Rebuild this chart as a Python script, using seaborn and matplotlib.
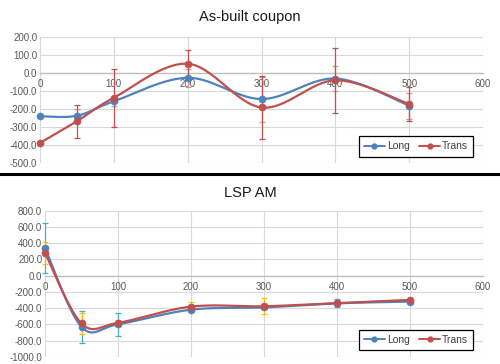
import numpy as np
import pandas as pd
import matplotlib
matplotlib.use("Agg")
import matplotlib.pyplot as plt
from matplotlib.lines import Line2D
import seaborn as sns

# data
dist = [0, 50, 100, 200, 300, 400, 500]

asb_long = [-240, -237, -157, -26, -144, -30, -181]
asb_trans = [-388, -268, -137, 52, -191, -40, -172]
asb_long_err = [0, 40, 25, 50, 125, 70, 72]
asb_trans_err = [0, 90, 160, 74, 175, 180, 95]

lsp_long = [340, -632, -600, -420, -392, -342, -320]
lsp_trans = [280, -590, -582, -382, -378, -338, -300]
lsp_long_err = [310, 200, 140, 20, 20, 50, 15]
lsp_trans_err = [135, 130, 40, 55, 100, 20, 15]

BLUE = "#4F81BD"
RED = "#C0504D"
TICK = "#595959"
GRID = "#D9D9D9"


def smooth(x, y, n=30):
    # excel-style smoothed line (catmull-rom / bezier)
    p = np.column_stack([x, y]).astype(float)
    p = np.vstack([p[0], p, p[-1]])
    out = []
    for i in range(1, len(p) - 2):
        p0, p1, p2, p3 = p[i - 1], p[i], p[i + 1], p[i + 2]
        b1 = p1 + (p2 - p0) / 6
        b2 = p2 - (p3 - p1) / 6
        t = np.linspace(0, 1, n)[:, None]
        seg = (1 - t) ** 3 * p1 + 3 * (1 - t) ** 2 * t * b1 + 3 * (1 - t) * t ** 2 * b2 + t ** 3 * p2
        out.append(seg if i == 1 else seg[1:])
    s = np.vstack(out)
    return pd.DataFrame({"x": s[:, 0], "y": s[:, 1]})


def panel(ax, long_v, trans_v, long_e, trans_e, ylo, yhi, ystep, ecol_long, ecol_trans):
    for v, e, c in [(long_v, long_e, ecol_long), (trans_v, trans_e, ecol_trans)]:
        eb = ax.errorbar(dist, v, yerr=e, fmt="none", ecolor=c, elinewidth=0.9,
                         capsize=2.5, capthick=0.9, zorder=3)
        for art in eb.lines[1] + eb.lines[2]:
            art.set_clip_on(False)
    sns.lineplot(data=smooth(dist, long_v), x="x", y="y", sort=False, color=BLUE, lw=1.6,
                 ax=ax, zorder=4, clip_on=False)
    sns.lineplot(data=smooth(dist, trans_v), x="x", y="y", sort=False, color=RED, lw=1.6,
                 ax=ax, zorder=5, clip_on=False)
    sns.scatterplot(x=dist, y=long_v, color=BLUE, s=26, edgecolor=BLUE, ax=ax, zorder=6,
                    clip_on=False)
    sns.scatterplot(x=dist, y=trans_v, color=RED, s=26, edgecolor=RED, ax=ax, zorder=7,
                    clip_on=False)

    ax.set_xlim(0, 600)
    ax.set_ylim(ylo, yhi)
    ax.set_xticks(range(0, 601, 100))
    ax.set_yticks(np.arange(ylo, yhi + 1, ystep))
    ax.set_yticklabels([f"{v:.1f}" for v in np.arange(ylo, yhi + 1, ystep)])
    ax.grid(True, color=GRID, lw=0.8)
    ax.set_axisbelow(True)
    for s in ["top", "right", "left"]:
        ax.spines[s].set_visible(False)
    ax.spines["bottom"].set_position(("data", 0))
    ax.spines["bottom"].set_color("#BFBFBF")
    ax.spines["bottom"].set_linewidth(1.0)
    ax.tick_params(axis="both", length=0, labelsize=7, labelcolor=TICK)
    ax.tick_params(axis="x", pad=4.5)
    ax.tick_params(axis="y", pad=2)
    ax.set_xlabel("")
    ax.set_ylabel("")

    handles = [Line2D([], [], color=BLUE, marker="o", ms=3.5, lw=1.4),
               Line2D([], [], color=RED, marker="o", ms=3.5, lw=1.4)]
    leg = ax.legend(handles, ["Long", "Trans"], loc="lower right", ncol=2, fontsize=7.5,
                    frameon=True, fancybox=False, framealpha=1, edgecolor="black",
                    handlelength=2.0, handletextpad=0.2, columnspacing=0.9,
                    borderpad=0.5, bbox_to_anchor=(0.99, 0.01))
    leg.get_frame().set_linewidth(0.9)
    for t in leg.get_texts():
        t.set_color("#404040")


sns.set_style("white")
plt.rcParams["font.family"] = ["Liberation Sans", "DejaVu Sans"]

fig = plt.figure(figsize=(5.0, 3.64), dpi=100)
ax1 = fig.add_axes([0.08, 0.552, 0.886, 0.346])
ax2 = fig.add_axes([0.09, 0.02, 0.876, 0.401])

panel(ax1, asb_long, asb_trans, asb_long_err, asb_trans_err, -500, 200, 100, "#D99694", RED)
panel(ax2, lsp_long, lsp_trans, lsp_long_err, lsp_trans_err, -1000, 800, 200, "#4BACC6", "#FFC000")

fig.text(0.5, 1 - 17 / 364, "As-built coupon", ha="center", va="center", fontsize=10.5, color="#1a1a1a")
fig.text(0.5, 1 - 193 / 364, "LSP AM", ha="center", va="center", fontsize=10.5, color="#1a1a1a")

fig.add_artist(Line2D([0, 1], [1 - 174 / 364] * 2, color="black", lw=2.2, transform=fig.transFigure))

fig.savefig("out.png", dpi=100)
